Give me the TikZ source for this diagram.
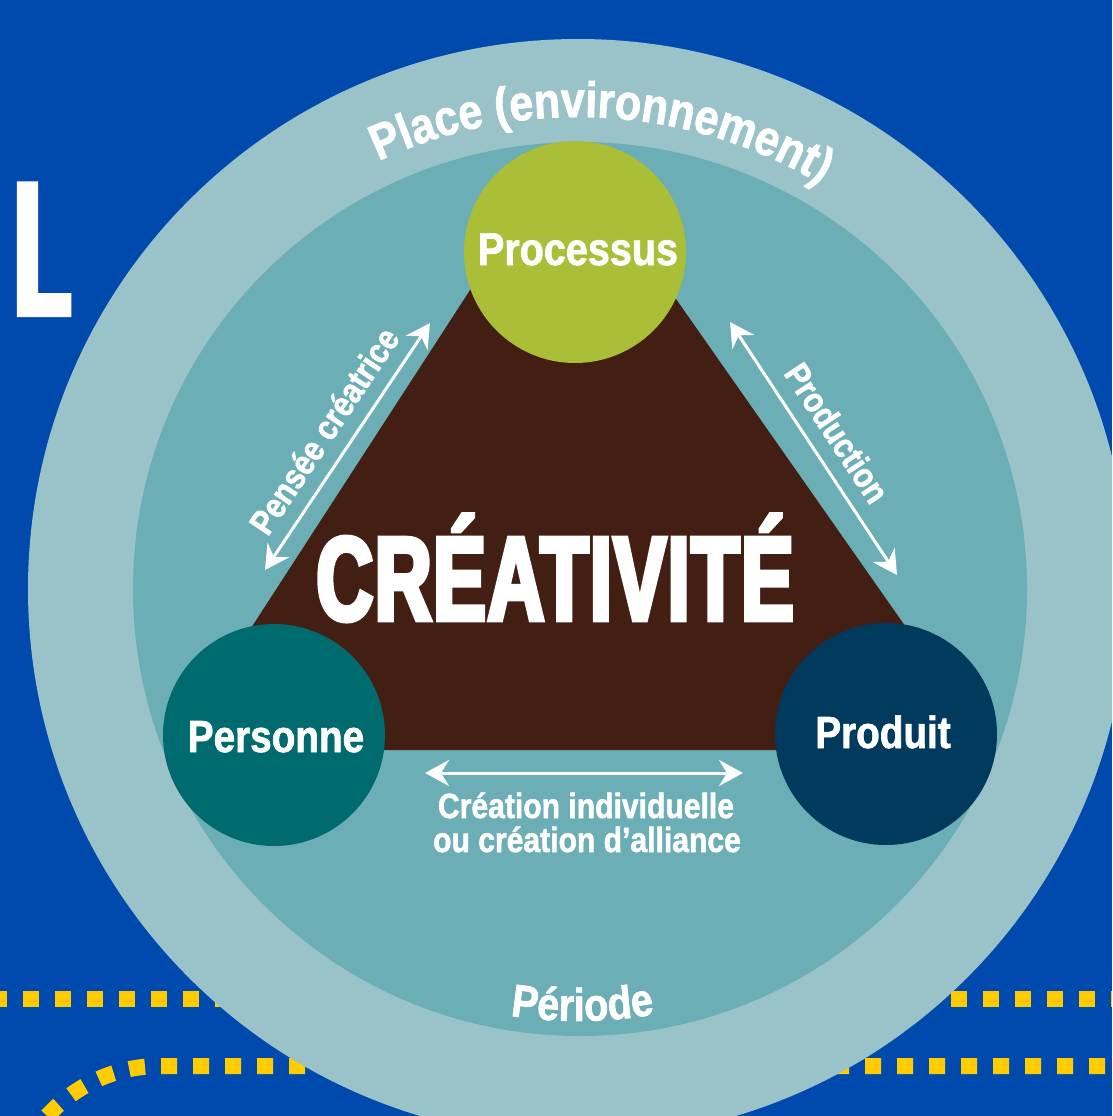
\documentclass[tikz,border=0pt]{standalone}
\usepackage{fontspec}
\usetikzlibrary{arrows.meta,decorations.text,calc}
\newfontfamily\condfont[FakeStretch=0.86,FakeBold=1.5]{Liberation Sans}
\newfontfamily\heavyfont[FakeStretch=0.66,FakeBold=4,LetterSpace=1.5]{Liberation Sans}
\newfontfamily\slidefont[FakeStretch=0.72,FakeBold=1]{Carlito}
\definecolor{bgblue}{HTML}{004AAD}
\definecolor{outerc}{HTML}{99C3C8}
\definecolor{innerc}{HTML}{6BAEB5}
\definecolor{brownc}{HTML}{421F12}
\definecolor{greenc}{HTML}{AABE38}
\definecolor{personc}{HTML}{006B6E}
\definecolor{prodc}{HTML}{003A5D}
\definecolor{yel}{HTML}{FFCC00}
\tikzset{
  dots/.style={draw=yel, line width=16pt, dash pattern=on 16pt off 16pt},
  blob/.style={circle, inner sep=0pt, minimum size=222pt},
  big/.style={text=white, inner sep=0pt, anchor=base, font=\condfont\bfseries\fontsize{45pt}{45pt}\selectfont},
  small/.style={text=white, inner sep=0pt, font=\condfont\bfseries\fontsize{35pt}{35pt}\selectfont},
  arr/.style={draw=white, line width=3pt, arrows={Stealth[length=24pt,width=26pt,inset=8pt]-Stealth[length=24pt,width=26pt,inset=8pt]}}
}
\begin{document}
\begin{tikzpicture}[x=1pt,y=1pt]
\useasboundingbox (0,0) rectangle (1112,-1116);
\clip (0,0) rectangle (1112,-1116);
\fill[bgblue] (0,0) rectangle (1112,-1116);
% yellow dotted lines
\draw[dots] (-9,-999) -- (1130,-999);
\draw[dots] (1137,-1066) -- (160,-1066) arc[start angle=90,end angle=165,radius=152pt];
% big L
\node[font=\slidefont\bfseries\fontsize{206pt}{206pt}\selectfont, text=white, inner sep=0pt, anchor=base west] (L) at (10,-316) {L};
% circles
\node[circle, fill=outerc, minimum size=1100pt, inner sep=0pt] (place) at (578,-589) {};
\node[circle, fill=innerc, minimum size=894pt, inner sep=0pt] (period) at (580,-589) {};
% triangle
\coordinate (tA) at (566,-142);
\coordinate (tB) at (172,-750);
\coordinate (tC) at (992,-750);
\fill[brownc] (tA) -- (tB) -- (tC) -- cycle;
\node[blob, fill=greenc] (proc) at (575,-252) {};
\node[blob, fill=personc] (pers) at (274,-735) {};
\node[blob, fill=prodc] (prod) at (886,-734) {};
\node[big, font=\condfont\bfseries\fontsize{46pt}{46pt}\selectfont] (procT) at (578,-265) {Processus};
\node[big] (persT) at (276,-752) {Personne};
\node[big] (prodT) at (883,-748) {Produit};
% centre title
\node[text=white, inner sep=0pt, anchor=base, font=\heavyfont\bfseries\fontsize{119pt}{119pt}\selectfont] (crea) at (555,-620) {CRÉATIVITÉ};
% arrows
\coordinate (a1) at (265,-570);
\coordinate (a2) at (430,-323);
\coordinate (b1) at (730,-322);
\coordinate (b2) at (897,-575);
\coordinate (c1) at (425,-773);
\coordinate (c2) at (743,-773);
\draw[arr] (a1) -- (a2) node[midway, sloped, above=14pt, small] (pc) {Pensée créatrice};
\draw[arr] (b1) -- (b2) node[midway, sloped, above=14pt, small] (pr) {Production};
\draw[arr] (c1) -- (c2);
\node[small, anchor=base] (ci1) at (586,-818) {Création individuelle};
\node[small, anchor=base] (ci2) at (587,-852) {ou création d’alliance};
% curved labels
\path[decorate, decoration={text along path, text color=white, text align=center,
  text={|\condfont\bfseries\fontsize{50pt}{50pt}\selectfont|Place (environnement)}}]
  ($(place.center)+(132:472pt)$) arc[start angle=132, end angle=42, radius=472pt];
\path[decorate, decoration={text along path, text color=white, text align=center,
  text={|\condfont\bfseries\fontsize{46pt}{46pt}\selectfont|Période}}]
  ($(place.center)+(250.2:432pt)$) arc[start angle=250.2, end angle=291, radius=432pt];
\end{tikzpicture}
\end{document}
